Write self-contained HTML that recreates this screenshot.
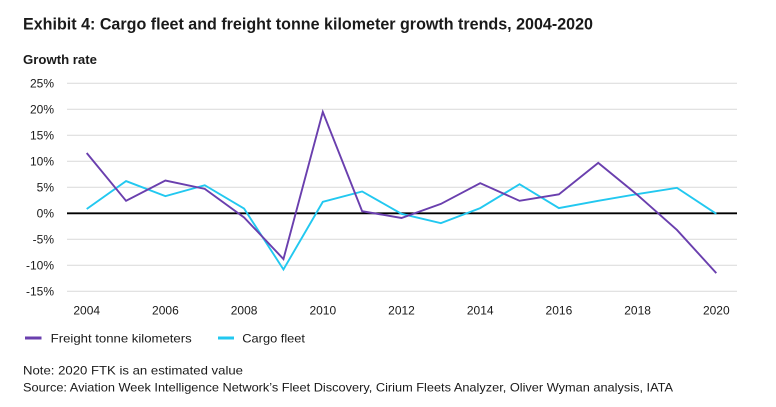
<!DOCTYPE html>
<html>
<head>
<meta charset="utf-8">
<style>
  html, body { margin: 0; padding: 0; background: #ffffff; }
  svg { display: block; }
  text { font-family: "Liberation Sans", "DejaVu Sans", sans-serif; fill: #1a1a1a; }
</style>
</head>
<body>
<svg width="776" height="407" viewBox="0 0 776 407" xmlns="http://www.w3.org/2000/svg">
  <rect x="0" y="0" width="776" height="407" fill="#ffffff"/>

  <!-- Title -->
  <text x="23" y="29.5" font-size="17" font-weight="bold" textLength="570" lengthAdjust="spacingAndGlyphs">Exhibit 4: Cargo fleet and freight tonne kilometer growth trends, 2004-2020</text>

  <!-- Axis title -->
  <text x="23" y="64" font-size="12.5" font-weight="bold" textLength="74" lengthAdjust="spacingAndGlyphs">Growth rate</text>

  <!-- Gridlines -->
  <g stroke="#d9d9d9" stroke-width="1">
    <line x1="67" y1="83.3" x2="737" y2="83.3"/>
    <line x1="67" y1="109.3" x2="737" y2="109.3"/>
    <line x1="67" y1="135.3" x2="737" y2="135.3"/>
    <line x1="67" y1="161.3" x2="737" y2="161.3"/>
    <line x1="67" y1="187.3" x2="737" y2="187.3"/>
    <line x1="67" y1="239.3" x2="737" y2="239.3"/>
    <line x1="67" y1="265.3" x2="737" y2="265.3"/>
    <line x1="67" y1="291.3" x2="737" y2="291.3"/>
  </g>

  <!-- Y labels -->
  <g font-size="12" text-anchor="end">
    <text x="54" y="87.5">25%</text>
    <text x="54" y="113.5">20%</text>
    <text x="54" y="139.5">15%</text>
    <text x="54" y="165.5">10%</text>
    <text x="54" y="191.5">5%</text>
    <text x="54" y="217.5">0%</text>
    <text x="54" y="243.5">-5%</text>
    <text x="54" y="269.5">-10%</text>
    <text x="54" y="295.5">-15%</text>
  </g>

  <!-- X labels -->
  <g font-size="12" text-anchor="middle">
    <text x="86.7" y="314.5">2004</text>
    <text x="165.4" y="314.5">2006</text>
    <text x="244.1" y="314.5">2008</text>
    <text x="322.8" y="314.5">2010</text>
    <text x="401.5" y="314.5">2012</text>
    <text x="480.2" y="314.5">2014</text>
    <text x="558.9" y="314.5">2016</text>
    <text x="637.6" y="314.5">2018</text>
    <text x="716.3" y="314.5">2020</text>
  </g>

  <!-- Zero line -->
  <line x1="67" y1="213.3" x2="737" y2="213.3" stroke="#000000" stroke-width="1.8"/>

  <!-- Cargo fleet -->
  <polyline fill="none" stroke="#22c8f0" stroke-width="1.9" stroke-linejoin="miter"
    points="86.7,208.98 126.05,181.06 165.4,196.14 204.75,185.22 244.1,208.62 283.45,269.46 322.8,201.86 362.15,191.46 401.5,213.82 440.85,223.18 480.2,208.1 519.55,184.18 558.9,208.1 598.25,200.82 637.6,194.06 676.95,187.82 716.3,213.82"/>

  <!-- Freight tonne kilometers -->
  <polyline fill="none" stroke="#6a3fae" stroke-width="1.9" stroke-linejoin="miter"
    points="86.7,152.98 126.05,200.82 165.4,180.54 204.75,188.86 244.1,217.46 283.45,259.06 322.8,111.9 362.15,211.22 401.5,217.98 440.85,203.94 480.2,183.14 519.55,200.82 558.9,194.32 598.25,162.86 637.6,195.1 676.95,229.94 716.3,273.1"/>

  <!-- Legend -->
  <line x1="25" y1="338" x2="41.5" y2="338" stroke="#6a3fae" stroke-width="3"/>
  <text x="50.7" y="342.3" font-size="12" textLength="141" lengthAdjust="spacingAndGlyphs">Freight tonne kilometers</text>
  <line x1="218" y1="338" x2="234" y2="338" stroke="#22c8f0" stroke-width="3"/>
  <text x="242.3" y="342.3" font-size="12" textLength="62.7" lengthAdjust="spacingAndGlyphs">Cargo fleet</text>

  <!-- Notes -->
  <text x="23" y="374.5" font-size="12" textLength="220" lengthAdjust="spacingAndGlyphs">Note: 2020 FTK is an estimated value</text>
  <text x="23" y="391.5" font-size="12" textLength="650" lengthAdjust="spacingAndGlyphs">Source: Aviation Week Intelligence Network’s Fleet Discovery, Cirium Fleets Analyzer, Oliver Wyman analysis, IATA</text>
</svg>
</body>
</html>
